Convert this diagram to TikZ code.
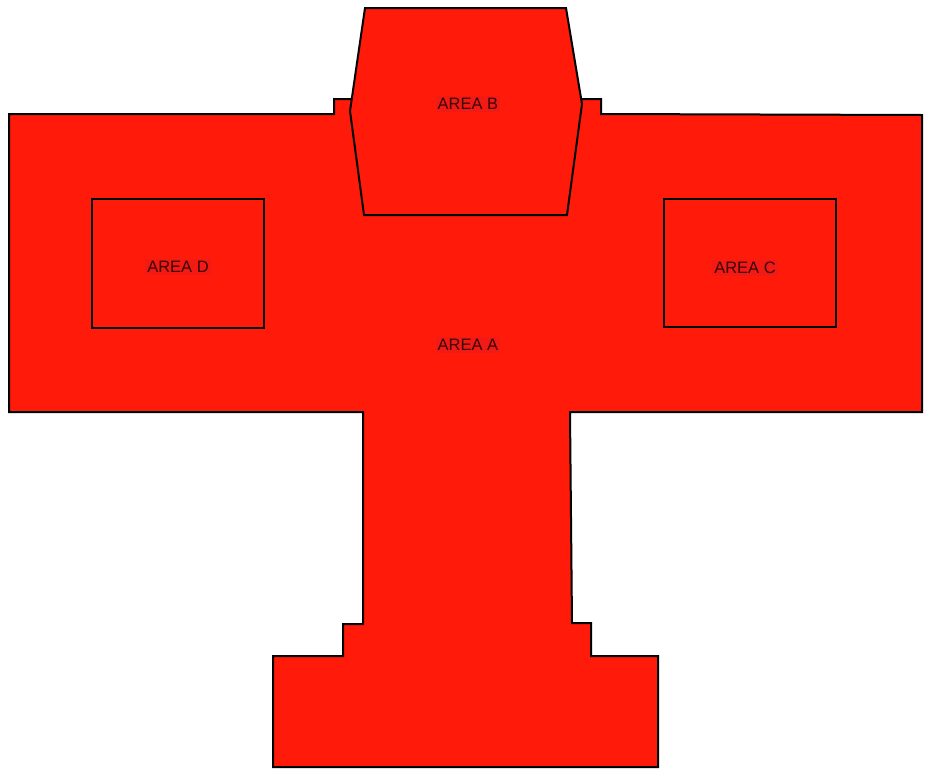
\documentclass[tikz,border=0pt]{standalone}
\usepackage{fontspec}
\setmainfont{Liberation Sans}
\definecolor{areared}{HTML}{FF1A0A}
\definecolor{labelred}{HTML}{F21A14}
\definecolor{labeltext}{HTML}{3A0505}
\tikzset{
  area/.style={draw=black,fill=areared,line width=2pt,line join=miter},
  arealabel/.style={font=\fontsize{16.5}{18}\selectfont,text=labeltext,fill=labelred,inner sep=2pt}
}
\begin{document}
\begin{tikzpicture}[x=1pt,y=-1pt]
\path[use as bounding box] (0,0) rectangle (927,769);
% area A
\draw[area] (9,114) -- (334,114) -- (334,99) -- (351,99) -- (582,99) -- (601,99) -- (601,114)
  -- (922,115) -- (922,412) -- (570,412) -- (572,623) -- (591,623) -- (591,656) -- (658,656)
  -- (658,767) -- (273,767) -- (273,656) -- (343,656) -- (343,624) -- (363,624) -- (363,412)
  -- (9,412) -- cycle;
% area B
\draw[area] (365,8) -- (566,8) -- (582,104) -- (567,215) -- (364,215) -- (350,111) -- cycle;
% area D and C
\draw[area] (92,199) rectangle (264,328);
\draw[area] (664,199) rectangle (836,327);
\node[arealabel] (lbB) at (468,104) {AREA B};
\node[arealabel] (lbD) at (178,267) {AREA D};
\node[arealabel] (lbC) at (745,268) {AREA C};
\node[arealabel] (lbA) at (468,345) {AREA A};
\end{tikzpicture}
\end{document}
